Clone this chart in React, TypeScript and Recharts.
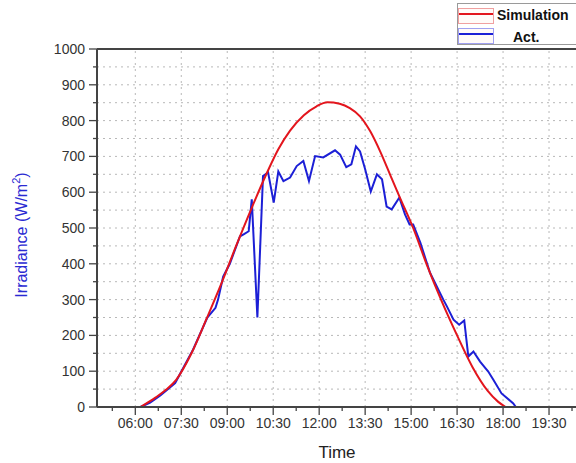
import React from 'react'
import { LineChart, Line, XAxis, YAxis, CartesianGrid, ReferenceLine } from 'recharts'

// time in minutes after midnight
const simTime = [370, 400, 420, 440, 470, 500, 530, 556, 589, 618, 640, 663, 690, 715, 736, 760, 780, 800, 820, 840, 860, 878, 904, 930, 960, 990, 1020, 1050, 1070, 1085]
const simValue = [0, 27, 48, 76, 150, 248, 350, 445, 560, 655, 720, 772, 815, 840, 851, 847, 835, 812, 770, 712, 645, 585, 500, 400, 295, 200, 112, 45, 15, 0]

const actTime = [370, 389, 409, 438, 473, 501, 517, 522, 532, 545, 565, 572, 582, 588, 599, 610, 620, 631, 640, 650, 663, 676, 689, 700, 712, 728, 751, 761, 773, 783, 792, 800, 810, 821, 833, 843, 852, 862, 877, 888, 897, 904, 918, 937, 963, 970, 983, 994, 1004, 1012, 1022, 1035, 1051, 1061, 1077, 1100, 1105]
const actValue = [0, 12, 32, 67, 160, 250, 277, 300, 364, 400, 477, 482, 491, 580, 250, 645, 655, 571, 658, 631, 641, 673, 687, 631, 701, 697, 717, 705, 670, 678, 728, 714, 664, 602, 650, 636, 560, 552, 585, 538, 510, 510, 459, 375, 300, 281, 244, 230, 242, 141, 155, 127, 99, 76, 38, 10, 0]

const xTicks = [315, 360, 405, 450, 495, 540, 585, 630, 675, 720, 765, 810, 855, 900, 945, 990, 1035, 1080, 1125, 1170, 1215]
const majorTimes = [360, 450, 540, 630, 720, 810, 900, 990, 1080, 1170, 1260]
const yTicks = [0, 50, 100, 150, 200, 250, 300, 350, 400, 450, 500, 550, 600, 650, 700, 750, 800, 850, 900, 950, 1000]

const simData = simTime.map((t, i) => ({ t, v: simValue[i] }))
const actData = actTime.map((t, i) => ({ t, v: actValue[i] }))

const RED = '#e3151d'
const BLUE = '#1c1fd6'
const AXIS = '#444'

const fmt = (m: number) =>
  `${String(Math.floor(m / 60)).padStart(2, '0')}:${String(m % 60).padStart(2, '0')}`

const XTick = ({ x, y, payload }: any) => {
  const major = (payload.value - 360) % 90 === 0
  return (
    <g>
      <line x1={x} x2={x} y1={y} y2={y + (major ? 8 : 4)} stroke={AXIS} strokeWidth={1.3} />
      {major && (
        <text x={x} y={y + 21} textAnchor="middle" fontSize={14} fill="#333">
          {fmt(payload.value)}
        </text>
      )}
    </g>
  )
}

const YTick = ({ x, y, payload }: any) => {
  const major = payload.value % 100 === 0
  return (
    <g>
      <line x1={x - (major ? 8 : 4)} x2={x} y1={y} y2={y} stroke={AXIS} strokeWidth={1.3} />
      {major && (
        <text x={x - 12} y={y + 5} textAnchor="end" fontSize={14} fill="#333">
          {payload.value}
        </text>
      )}
    </g>
  )
}

const Sample = ({ color, pale }: { color: string; pale: string }) => (
  <div style={{ position: 'absolute', left: 0, width: 34, height: 14, border: `1px solid ${pale}`, background: '#fffaf8' }}>
    <div style={{ position: 'absolute', left: 0, right: 0, top: 4, height: 2, background: color }} />
  </div>
)

export default function App() {
  return (
    <div
      style={{
        position: 'fixed',
        left: 0,
        top: 0,
        width: 576,
        height: 463,
        overflow: 'hidden',
        background: '#fff',
        fontFamily: '"Liberation Sans", Arial, sans-serif'
      }}
    >
      <LineChart width={620} height={463} margin={{ top: 49, right: 25, bottom: 26, left: 0 }}>
        <CartesianGrid vertical={false} stroke="#b8b8b8" strokeDasharray="2 4" />
        {majorTimes.map((t) => (
          <ReferenceLine key={t} x={t} stroke="#b8b8b8" strokeDasharray="2 4" />
        ))}
        <XAxis
          type="number"
          dataKey="t"
          domain={[285, 1260]}
          ticks={xTicks}
          interval={0}
          height={30}
          tickSize={0}
          tickMargin={0}
          tickLine={false}
          tick={XTick}
          axisLine={{ stroke: AXIS, strokeWidth: 2 }}
          allowDataOverflow
          label={({ viewBox }: any) => (
            <text x={viewBox.x + 240} y={viewBox.y + 51} textAnchor="middle" fontSize={17} fill="#222">
              Time
            </text>
          )}
        />
        <YAxis
          type="number"
          domain={[0, 1000]}
          ticks={yTicks}
          interval={0}
          width={97}
          tickSize={0}
          tickMargin={0}
          tickLine={false}
          tick={YTick}
          axisLine={{ stroke: AXIS, strokeWidth: 2 }}
          label={({ viewBox }: any) => {
            const cy = viewBox.y + viewBox.height / 2 + 7
            return (
              <text x={27} y={cy} transform={`rotate(-90 27 ${cy})`} textAnchor="middle" fontSize={16} fill="#2a2ad2">
                <tspan>Irradiance (W/m</tspan>
                <tspan fontSize={11} dy={-7}>2</tspan>
                <tspan dy={7}>)</tspan>
              </text>
            )
          }}
        />
        <ReferenceLine y={1000} stroke={AXIS} strokeWidth={2} />
        <Line data={actData} dataKey="v" type="linear" stroke={BLUE} strokeWidth={2} dot={false} isAnimationActive={false} />
        <Line data={simData} dataKey="v" type="monotone" stroke={RED} strokeWidth={2} dot={false} isAnimationActive={false} />
      </LineChart>

      <div
        style={{
          position: 'absolute',
          left: 457,
          top: 3,
          width: 140,
          height: 40,
          border: '1px solid #9a9a9a',
          background: '#fff'
        }}
      >
        <div style={{ position: 'absolute', left: 0, top: 4, width: 140, height: 16 }}>
          <Sample color={RED} pale="#f0a0a0" />
          <span style={{ position: 'absolute', left: 39, top: -1, fontSize: 14, fontWeight: 'bold', color: '#111' }}>
            Simulation
          </span>
        </div>
        <div style={{ position: 'absolute', left: 0, top: 24, width: 140, height: 16 }}>
          <Sample color={BLUE} pale="#a0a0f0" />
          <span style={{ position: 'absolute', left: 55, top: 1, fontSize: 14, fontWeight: 'bold', color: '#111' }}>
            Act.
          </span>
        </div>
      </div>
    </div>
  )
}
